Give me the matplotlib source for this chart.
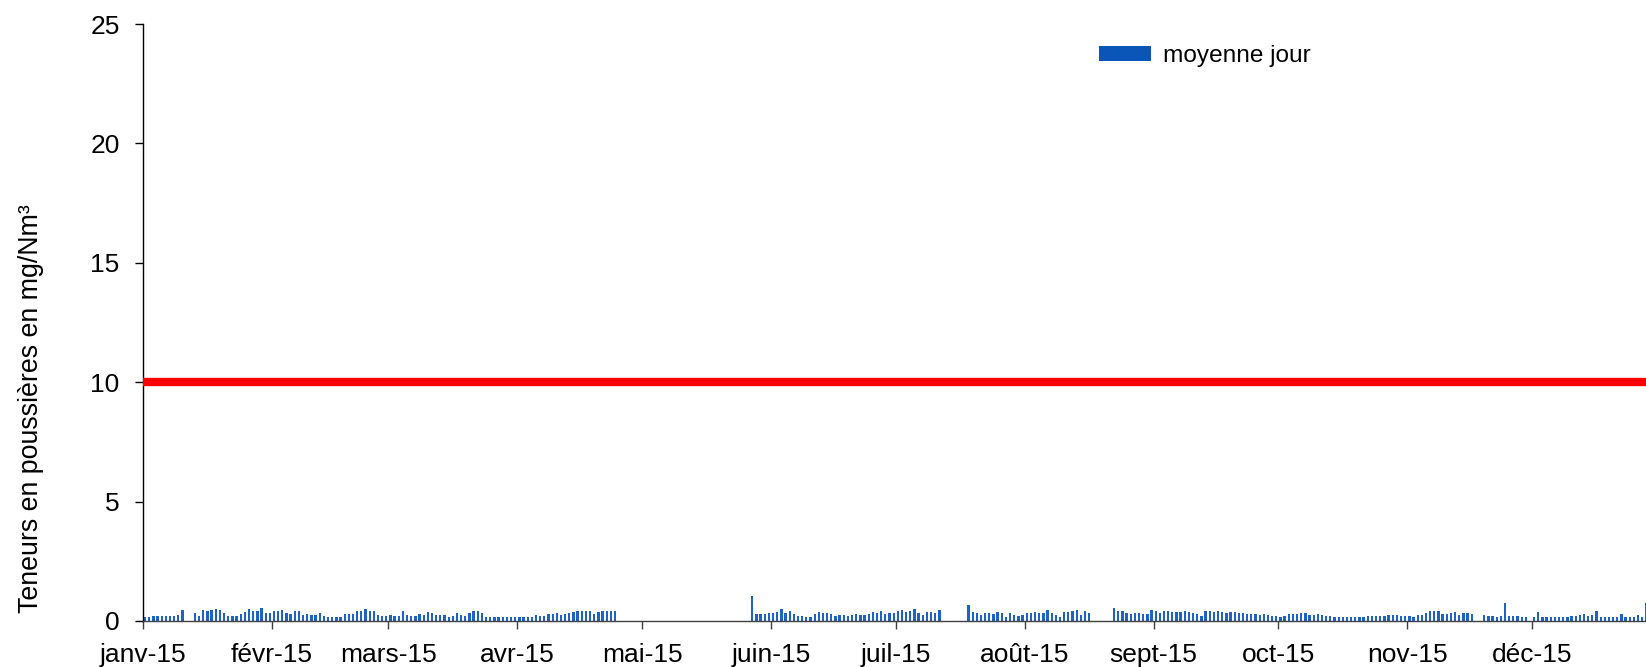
import numpy as np
import pandas as pd
import matplotlib
matplotlib.use('Agg')
import matplotlib.pyplot as plt
import matplotlib.dates as mdates
from matplotlib.patches import Patch

plt.rcParams['font.family'] = ['Liberation Sans', 'DejaVu Sans']

N = None
# Daily mean dust content (mg/Nm3), 2015, None = no measurement
jan = [0.18, 0.18, 0.21, 0.21, 0.20, 0.21, 0.21, 0.20, 0.25, 0.47, N, N,
       0.33, 0.21, 0.46, 0.43, 0.46, 0.50, 0.46, 0.35, 0.22, 0.21, 0.20, 0.28,
       0.36, 0.52, 0.42, 0.41, 0.53, 0.32, 0.32]
feb = [0.42, 0.43, 0.47, 0.35, 0.28, 0.43, 0.42, 0.24, 0.29, 0.25, 0.25, 0.34,
       0.21, 0.18, 0.18, 0.18, 0.18, 0.29, 0.29, 0.29, 0.43, 0.43, 0.49, 0.41,
       0.41, 0.25, 0.20, 0.20]
mar = [0.25, 0.20, 0.20, 0.42, 0.27, 0.21, 0.21, 0.29, 0.25, 0.38, 0.32, 0.24,
       0.24, 0.25, 0.18, 0.21, 0.32, 0.25, 0.21, 0.35, 0.42, 0.42, 0.32, 0.18,
       0.18, 0.18, 0.18, 0.18, 0.18, 0.18, 0.18]
apr = [0.18, 0.18, 0.18, 0.18, 0.25, 0.22, 0.22, 0.29, 0.29, 0.32, 0.25, 0.28,
       0.32, 0.36, 0.42, 0.42, 0.42, 0.42, 0.31, 0.38, 0.42, 0.42, 0.42, 0.42,
       N, N, N, N, N, N]
may = [N] * 26 + [1.03, 0.29, 0.29, 0.28, 0.34]
jun = [0.32, 0.38, 0.50, 0.32, 0.43, 0.29, 0.21, 0.21, 0.18, 0.18, 0.28, 0.39,
       0.34, 0.32, 0.28, 0.21, 0.25, 0.25, 0.21, 0.24, 0.28, 0.25, 0.25, 0.29,
       0.38, 0.32, 0.42, 0.31, 0.34, 0.34]
jul = [0.41, 0.47, 0.38, 0.41, 0.52, 0.35, 0.25, 0.38, 0.39, 0.34, 0.45,
       N, N, N, N, N, N,
       0.67, 0.36, 0.34, 0.25, 0.32, 0.34, 0.31, 0.39, 0.34, 0.18, 0.32, 0.24,
       0.22, 0.25]
aug = [0.34, 0.32, 0.39, 0.35, 0.34, 0.46, 0.34, 0.27, 0.18, 0.36, 0.36, 0.42,
       0.46, 0.25, 0.41, 0.34, N, N, N, N, N,
       0.56, 0.42, 0.41, 0.34, 0.31, 0.34, 0.34, 0.31, 0.31, 0.45]
sep = [0.41, 0.34, 0.41, 0.41, 0.39, 0.39, 0.36, 0.41, 0.39, 0.35, 0.31, 0.22,
       0.43, 0.43, 0.39, 0.42, 0.39, 0.32, 0.39, 0.36, 0.32, 0.32, 0.29, 0.29,
       0.29, 0.25, 0.29, 0.24, 0.21, 0.21]
oct_ = [0.18, 0.22, 0.31, 0.31, 0.31, 0.35, 0.32, 0.27, 0.27, 0.29, 0.25, 0.22,
        0.22, 0.18, 0.18, 0.18, 0.18, 0.18, 0.18, 0.18, 0.18, 0.21, 0.21, 0.22,
        0.21, 0.21, 0.27, 0.25, 0.25, 0.22, 0.22]
nov = [0.22, 0.18, 0.24, 0.27, 0.34, 0.42, 0.42, 0.42, 0.29, 0.28, 0.32, 0.36,
       0.25, 0.32, 0.32, 0.28, N, N, 0.25, 0.20, 0.21, 0.18, 0.21, 0.75,
       0.21, 0.21, 0.21, 0.18, 0.18, N]
dec = [0.18, 0.38, 0.18, 0.18, 0.18, 0.18, 0.18, 0.18, 0.18, 0.21, 0.21, 0.24,
       0.28, 0.21, 0.25, 0.41, 0.18, 0.18, 0.18, 0.18, 0.18, 0.28, 0.18, 0.18,
       0.18, 0.25, 0.18, 0.74, N, N, N]

month_labels = ['janv-15', 'févr-15', 'mars-15', 'avr-15', 'mai-15', 'juin-15',
                'juil-15', 'août-15', 'sept-15', 'oct-15', 'nov-15', 'déc-15']
limit_value = 10
y_ticks = [0, 5, 10, 15, 20, 25]
series_label = 'moyenne jour'
y_label = 'Teneurs en poussières en mg/Nm³'

values = jan + feb + mar + apr + may + jun + jul + aug + sep + oct_ + nov + dec
dates = pd.date_range('2015-01-01', '2015-12-31', freq='D')
month_starts = pd.date_range('2015-01-01', periods=12, freq='MS')

vals = np.array([np.nan if v is None else v for v in values], dtype=float)
mask = ~np.isnan(vals)
x = mdates.date2num(dates) + 0.5

W, H = 1646, 667
fig = plt.figure(figsize=(W / 100, H / 100), dpi=100)
ax = fig.add_axes([143 / W, 1 - 621 / H, 1 - 143 / W, (621 - 24) / H])

ax.bar(x[mask], vals[mask], width=0.55, color='#2062C4', linewidth=0, zorder=2)
ax.axhline(limit_value, color='#FF0000', lw=6, zorder=3)

x0 = mdates.date2num(dates[0])
ax.set_xlim(x0, x0 + 361.4)
ax.set_ylim(0, 25)
ax.set_yticks(y_ticks)
ax.set_xticks(mdates.date2num(month_starts))
ax.set_xticklabels(month_labels)

for s in ['top', 'right']:
    ax.spines[s].set_visible(False)
ax.spines['left'].set_color('black')
ax.spines['bottom'].set_color('#404040')
ax.spines['left'].set_linewidth(1)
ax.spines['bottom'].set_linewidth(1)
ax.tick_params(axis='y', direction='out', length=5.8, width=1, pad=11,
               labelsize=19, colors='black')
ax.tick_params(axis='x', direction='out', length=5.8, width=1, pad=10,
               labelsize=19, color='#404040', labelcolor='black')

fig.text(31 / W, 1 - 409 / H, y_label, rotation=90, ha='center', va='center',
         fontsize=19.3)

ax.legend(handles=[Patch(facecolor='#0A56B8', edgecolor='none', label=series_label)],
          loc='upper left', bbox_to_anchor=(1099 / W, 1 - 45 / H),
          bbox_transform=fig.transFigure, frameon=False, fontsize=17.6,
          borderpad=0, borderaxespad=0, handlelength=2.13, handleheight=0.53,
          handletextpad=0.49)

fig.savefig('out.png', dpi=100)
